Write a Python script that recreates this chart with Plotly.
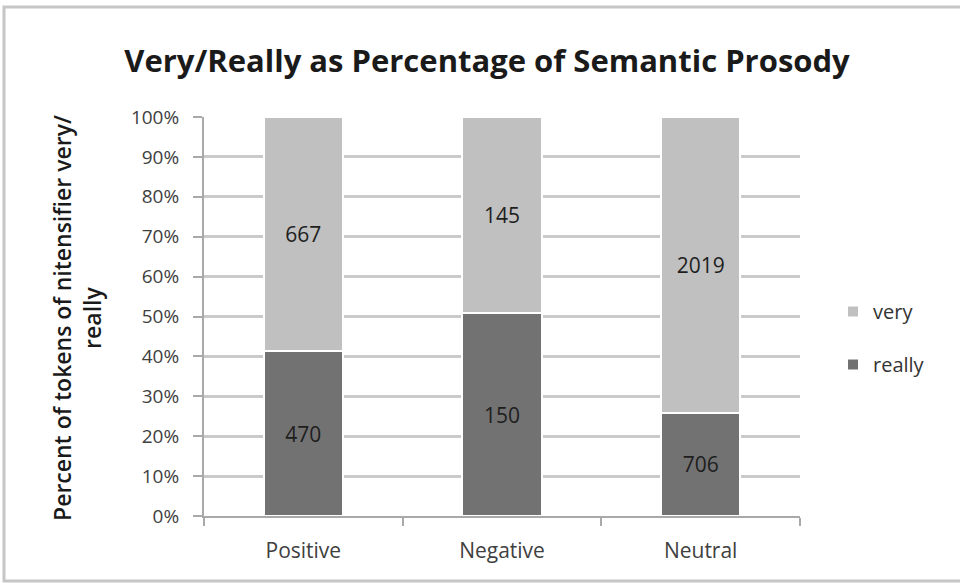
import numpy as np
import plotly.graph_objects as go

# Token counts of each intensifier by semantic prosody
categories = ["Positive", "Negative", "Neutral"]
really_counts = [470, 150, 706]
very_counts = [667, 145, 2019]
y_tick_values = [0, 0.1, 0.2, 0.3, 0.4, 0.5, 0.6, 0.7, 0.8, 0.9, 1.0]
y_tick_labels = ["0%", "10%", "20%", "30%", "40%", "50%", "60%", "70%", "80%", "90%", "100%"]

really = np.array(really_counts, dtype=float)
very = np.array(very_counts, dtype=float)
totals = really + very
really_share = really / totals
very_share = very / totals

FONT = "Open Sans"
W, H = 960, 583
L, R, T, B = 204, 160, 117, 67
plot_w = W - L - R
plot_h = H - T - B


def px_x(p):
    return (p - L) / plot_w


def px_y(p):
    return (H - B - p) / plot_h


fig = go.Figure()
fig.add_trace(go.Bar(
    name="really", x=categories, y=really_share,
    text=[str(v) for v in really_counts], textposition="inside",
    insidetextanchor="middle", textangle=0, constraintext="none",
    textfont=dict(family=FONT, size=21, color="#1e1e1e"),
    marker=dict(color="#727272", line=dict(color="#ffffff", width=2)),
    legendgroup="really", legendrank=2,
))
fig.add_trace(go.Bar(
    name="very", x=categories, y=very_share,
    text=[str(v) for v in very_counts], textposition="inside",
    insidetextanchor="middle", textangle=0, constraintext="none",
    textfont=dict(family=FONT, size=21, color="#1e1e1e"),
    marker=dict(color="#c0c0c0", line=dict(color="#ffffff", width=2)),
    legendgroup="very", legendrank=1,
))

fig.update_layout(
    width=W, height=H,
    barmode="stack", bargap=0.6,
    paper_bgcolor="white", plot_bgcolor="white",
    margin=dict(l=L, r=R, t=T, b=B, autoexpand=False),
    font=dict(family=FONT, color="#404040"),
    title=dict(
        text="<b>Very/Really as Percentage of Semantic Prosody</b>",
        font=dict(family=FONT, size=31, color="#1a1a1a"),
        x=487 / W, xanchor="center", xref="container",
        y=1 - 61 / H, yanchor="middle", yref="container",
    ),
    showlegend=True,
    legend=dict(
        x=px_x(833), xanchor="left", y=px_y(292), yanchor="top",
        traceorder="grouped", tracegroupgap=24,
        font=dict(family=FONT, size=20, color="#333333"),
        bgcolor="rgba(0,0,0,0)",
    ),
    xaxis=dict(
        showline=True, linecolor="#a9a9a9", linewidth=2,
        ticks="outside", tickson="boundaries", ticklen=8,
        tickcolor="#a9a9a9", tickwidth=2,
        ticklabelstandoff=15,
        tickfont=dict(family=FONT, size=21, color="#404040"),
        showgrid=False,
    ),
    yaxis=dict(
        range=[0, 1], tickvals=y_tick_values, ticktext=y_tick_labels,
        showline=True, linecolor="#a9a9a9", linewidth=2,
        ticks="outside", ticklen=9, tickcolor="#a9a9a9", tickwidth=2,
        ticklabelstandoff=10,
        tickfont=dict(family=FONT, size=19, color="#404040"),
        showgrid=True, gridcolor="#cacaca", gridwidth=3,
        zeroline=False,
    ),
    annotations=[dict(
        text="Percent of tokens of nitensifier very/<br>really",
        textangle=-90, showarrow=False,
        xref="paper", yref="paper",
        x=px_x(77), y=px_y(318), xanchor="center", yanchor="middle",
        font=dict(family=FONT, size=23, color="#1a1a1a", weight=600),
        align="center",
    )],
    shapes=[dict(
        type="rect", xref="paper", yref="paper",
        x0=px_x(4), x1=px_x(990), y0=px_y(581), y1=px_y(7),
        line=dict(color="#c6c6c6", width=3), fillcolor="rgba(0,0,0,0)",
        layer="below",
    )],
)

fig.write_html("out.html")
